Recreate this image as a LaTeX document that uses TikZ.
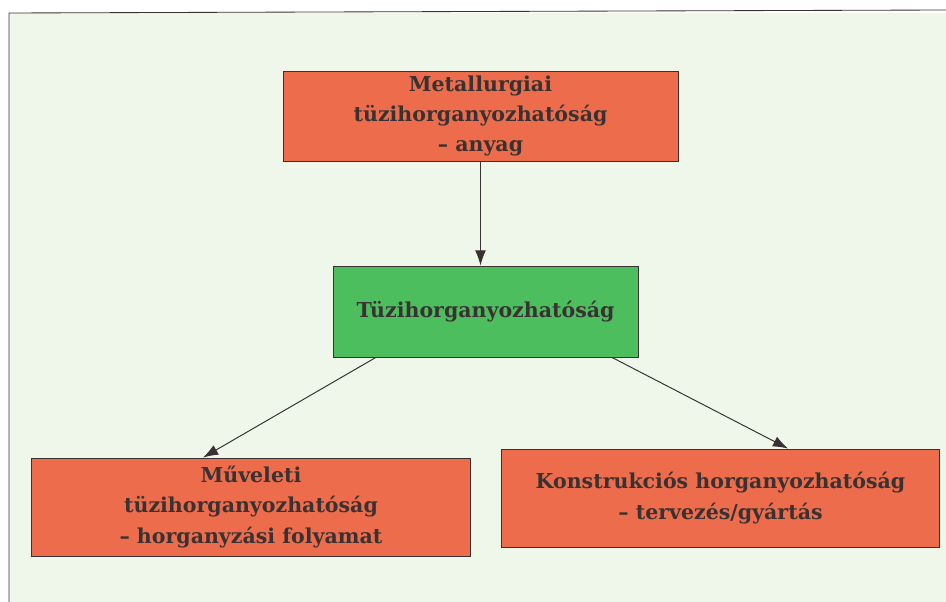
\documentclass[tikz,border=0pt]{standalone}
\usepackage{fontspec}
\usepackage{tikz}
\usetikzlibrary{arrows.meta}
\newfontfamily\boxfont{DejaVu Serif}
\definecolor{paper}{HTML}{EEF7EA}
\definecolor{tomato}{HTML}{EC6C4C}
\definecolor{leaf}{HTML}{4DBE5E}
\definecolor{ink}{HTML}{3A3232}
\tikzstyle{box} = [draw=ink,line width=0.6pt,align=center,text=ink,inner sep=0pt,
  font=\boxfont\bfseries\fontsize{14.6}{21.5}\selectfont]
\tikzstyle{redbox} = [box,fill=tomato]
\tikzstyle{greenbox} = [box,fill=leaf]

\begin{document}
\begin{tikzpicture}[x=0.025cm,y=-0.025cm,link/.style={->,>={Latex[length=3.8mm,width=2.7mm]},draw=ink,line width=0.7pt}]
    \useasboundingbox (0,0) rectangle (946,602);
    \fill[paper] (9,13) rectangle (946,602);
    \draw[ink,line width=0.6pt] (9,602) -- (9,13) -- (946,10);

    \node[redbox,minimum width=395*0.025cm,minimum height=90*0.025cm] (meta) at (480.5,116) {Metallurgiai\\tüzihorganyozhatóság\\– anyag};
    \node[greenbox,minimum width=305*0.025cm,minimum height=91*0.025cm] (tuzi) at (485.5,311.5) {Tüzihorganyozhatóság};
    \node[redbox,minimum width=439*0.025cm,minimum height=98*0.025cm] (muv) at (251,507) {Műveleti\\tüzihorganyozhatóság\\– horganyzási folyamat};
    \node[redbox,minimum width=438*0.025cm,minimum height=98*0.025cm] (konst) at (720.5,498) {Konstrukciós horganyozhatóság\\– tervezés/gyártás};

    \draw[link] (meta.south) -- (meta.south |- tuzi.north);
    \draw[link] ([xshift=-2.74cm]tuzi.south) -- ([xshift=-1.2cm]muv.north);
    \draw[link] ([xshift=3.16cm]tuzi.south) -- ([xshift=1.69cm]konst.north);

    \end{tikzpicture}
\end{document}
